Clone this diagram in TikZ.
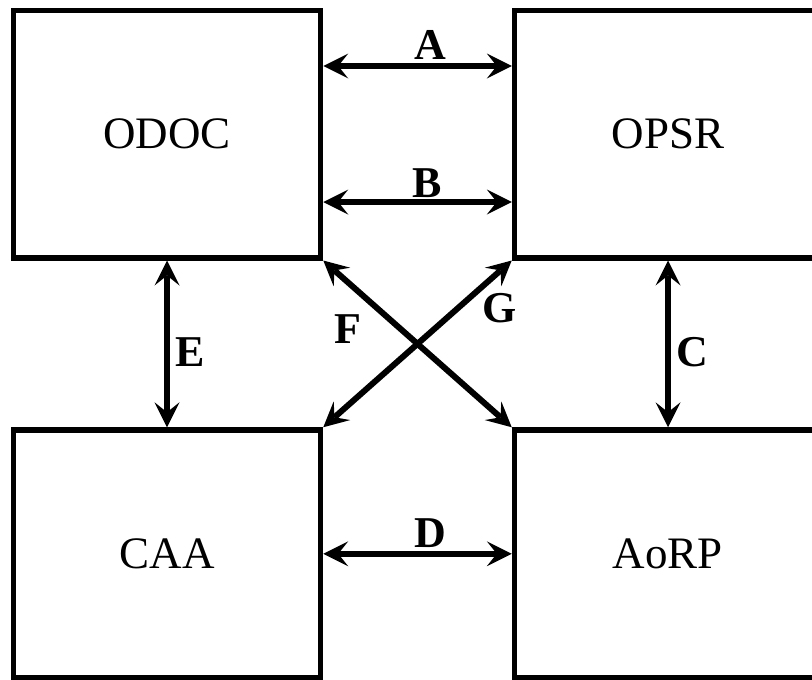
\documentclass[tikz,border=0pt]{standalone}
\usepackage{fontspec}
\setmainfont{Liberation Serif}
\usetikzlibrary{arrows.meta}
\begin{document}
\begin{tikzpicture}[x=1pt,y=-1pt,
  boxnode/.style={draw,line width=5.5pt,rectangle,minimum width=307pt,minimum height=247.5pt,inner sep=0pt,
    font=\fontsize{45}{54}\selectfont},
  biarrow/.style={line width=6pt,{Stealth[length=25pt,width=25pt,inset=10pt,line width=0pt]}-{Stealth[length=25pt,width=25pt,inset=10pt,line width=0pt]}},
  lbl/.style={font=\fontsize{44}{52}\selectfont\bfseries,inner sep=0pt}]
\useasboundingbox (0,0) rectangle (812,680);
\clip (0,0) rectangle (812,680);
\node[boxnode] (ODOC) at (167,134) {ODOC};
\node[boxnode] (OPSR) at (668,134) {OPSR};
\node[boxnode] (CAA) at (167,553.75) {CAA};
\node[boxnode] (AoRP) at (668,553.75) {AoRP};
\draw[biarrow] ([yshift=68pt]ODOC.east) -- ([yshift=68pt]OPSR.west);
\draw[biarrow] ([yshift=-68pt]ODOC.east) -- ([yshift=-68pt]OPSR.west);
\draw[biarrow] (ODOC.south) -- (CAA.north);
\draw[biarrow] (OPSR.south) -- (AoRP.north);
\draw[biarrow] (CAA.east) -- (AoRP.west);
\draw[biarrow] (ODOC.south east) -- (AoRP.north west);
\draw[biarrow] (CAA.north east) -- (OPSR.south west);
\node[lbl] (lA) at (430,45) {A};
\node[lbl] (lB) at (427,183) {B};
\node[lbl] (lC) at (692,352) {C};
\node[lbl] (lD) at (430,533) {D};
\node[lbl] (lE) at (190,352) {E};
\node[lbl] (lF) at (348,329) {F};
\node[lbl] (lG) at (500,308) {G};
\end{tikzpicture}
\end{document}
